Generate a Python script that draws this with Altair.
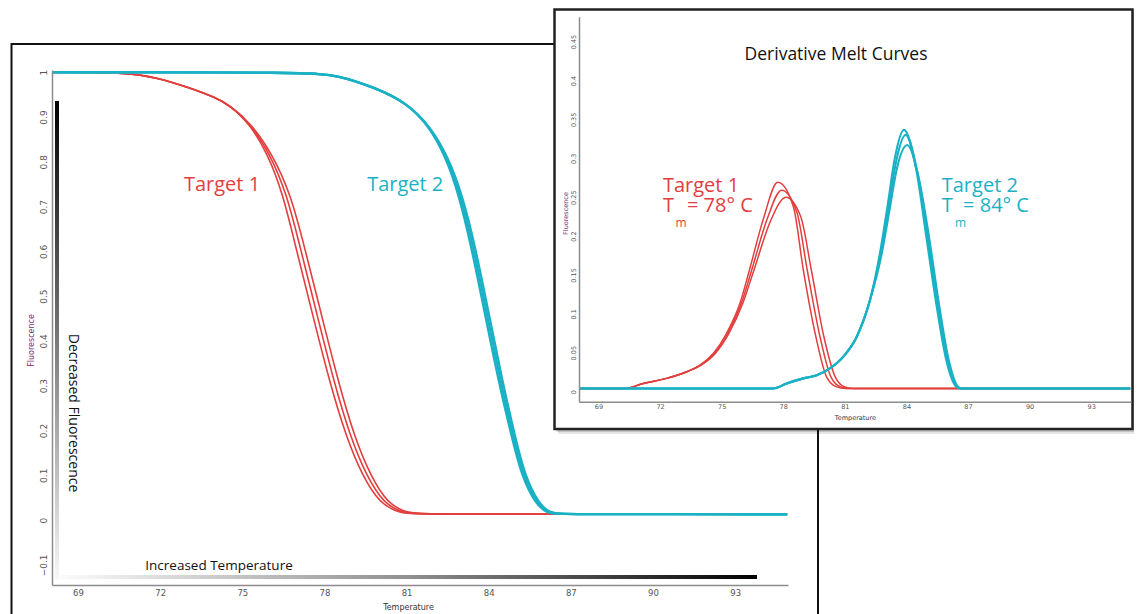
import altair as alt
import pandas as pd

# ---------------- values ----------------
# Main plot: normalised melt curves (fluorescence vs temperature), 3 replicates per target
main_t1_level = [1.0, 1.0, 0.988, 0.965, 0.944, 0.926, 0.886, 0.818, 0.729, 0.610, 0.461, 0.3125, 0.186, 0.097, 0.037, 0.015, 0.013, 0.013]
main_t1_temp_a = [68.05, 70.72, 71.9, 73.09, 74.0, 74.55, 75.25, 75.93, 76.48, 76.95, 77.56, 78.17, 78.79, 79.40, 80.02, 80.75, 81.5, 94.9]
main_t1_temp_b = [68.05, 70.72, 71.9, 73.09, 74.0, 74.55, 75.28, 76.01, 76.62, 77.11, 77.72, 78.33, 78.94, 79.55, 80.16, 80.89, 81.6, 94.9]
main_t1_temp_c = [68.05, 70.72, 71.9, 73.09, 74.0, 74.55, 75.31, 76.09, 76.76, 77.27, 77.88, 78.49, 79.09, 79.70, 80.30, 81.03, 81.7, 94.9]

main_t2_level = [1.0, 1.0, 0.993, 0.967, 0.932, 0.878, 0.811, 0.729, 0.610, 0.461, 0.3125, 0.186, 0.097, 0.037, 0.015, 0.013, 0.013]
main_t2_temp_a = [68.05, 77.4, 78.5, 79.79, 81.01, 81.84, 82.43, 82.90, 83.37, 83.86, 84.35, 84.84, 85.21, 85.70, 86.12, 86.6, 94.9]
main_t2_temp_b = [68.05, 77.4, 78.5, 79.79, 81.01, 81.86, 82.47, 82.96, 83.44, 83.93, 84.42, 84.90, 85.27, 85.76, 86.18, 86.65, 94.9]
main_t2_temp_c = [68.05, 77.4, 78.5, 79.79, 81.01, 81.88, 82.51, 83.02, 83.51, 84.00, 84.49, 84.96, 85.33, 85.82, 86.24, 86.7, 94.9]

# Inset: derivative melt curves
ins_t1_temp_a = [68.05, 70.29, 71.18, 72.32, 73.30, 73.94, 74.59, 75.24, 75.89, 76.35, 77.03, 77.73, 78.49, 78.98, 79.59, 80.11, 80.6, 81.0, 94.9]
ins_t1_val_a = [0.004, 0.004, 0.0105, 0.017, 0.0255, 0.034, 0.049, 0.075, 0.1135, 0.156, 0.222, 0.269, 0.238, 0.156, 0.0705, 0.019, 0.006, 0.004, 0.004]
ins_t1_temp_b = [68.05, 70.29, 71.18, 72.32, 73.30, 73.97, 74.64, 75.30, 75.96, 76.46, 77.19, 77.92, 78.66, 79.17, 79.79, 80.32, 80.8, 81.25, 94.9]
ins_t1_val_b = [0.004, 0.004, 0.0105, 0.017, 0.0255, 0.034, 0.049, 0.075, 0.1135, 0.156, 0.220, 0.259, 0.231, 0.156, 0.0705, 0.019, 0.006, 0.004, 0.004]
ins_t1_temp_c = [68.05, 70.29, 71.18, 72.32, 73.30, 74.00, 74.69, 75.36, 76.03, 76.57, 77.39, 78.13, 78.85, 79.37, 79.98, 80.53, 81.0, 81.49, 94.9]
ins_t1_val_c = [0.004, 0.004, 0.0105, 0.017, 0.0255, 0.034, 0.049, 0.075, 0.1135, 0.156, 0.220, 0.250, 0.225, 0.156, 0.0705, 0.019, 0.006, 0.004, 0.004]

ins_t2_temp_a = [68.05, 77.51, 78.17, 78.98, 79.63, 80.28, 80.93, 81.58, 82.23, 82.71, 83.10, 83.42, 83.88, 84.48, 84.97, 85.45, 85.94, 86.43, 86.6, 94.9]
ins_t2_val_a = [0.004, 0.004, 0.0105, 0.017, 0.021, 0.030, 0.045, 0.0705, 0.118, 0.178, 0.242, 0.298, 0.3365, 0.285, 0.199, 0.1135, 0.0405, 0.006, 0.004, 0.004]
ins_t2_temp_b = [68.05, 77.51, 78.17, 78.98, 79.63, 80.28, 80.93, 81.58, 82.23, 82.74, 83.14, 83.47, 83.96, 84.55, 85.04, 85.52, 86.00, 86.48, 86.65, 94.9]
ins_t2_val_b = [0.004, 0.004, 0.0105, 0.017, 0.021, 0.030, 0.045, 0.0705, 0.118, 0.176, 0.238, 0.292, 0.330, 0.280, 0.199, 0.1135, 0.0405, 0.006, 0.004, 0.004]
ins_t2_temp_c = [68.05, 77.51, 78.17, 78.98, 79.63, 80.28, 80.93, 81.58, 82.23, 82.77, 83.18, 83.52, 84.04, 84.62, 85.10, 85.58, 86.06, 86.52, 86.7, 94.9]
ins_t2_val_c = [0.004, 0.004, 0.0105, 0.017, 0.021, 0.030, 0.045, 0.0705, 0.118, 0.174, 0.234, 0.285, 0.317, 0.272, 0.199, 0.1135, 0.0405, 0.006, 0.004, 0.004]

x_ticks = [69, 72, 75, 78, 81, 84, 87, 90, 93]
main_y_ticks = [-0.1, 0, 0.1, 0.2, 0.3, 0.4, 0.5, 0.6, 0.7, 0.8, 0.9, 1]
ins_y_ticks = [0, 0.05, 0.1, 0.15, 0.2, 0.25, 0.3, 0.35, 0.4, 0.45]

# annotations (text, temperature, value)
main_target_labels = ["Target 1", "Target 2"]
main_target_temp = [74.26, 80.95]
main_target_val = [0.734, 0.734]
ins_target_labels = ["Target 1", "Target 2"]
ins_target_temp = [72.14, 85.72]
ins_tm_rest = ["= 78\u00b0 C", "= 84\u00b0 C"]
ins_tm_rest_temp = [73.31, 86.76]
ins_tm_sub_temp = [72.75, 86.37]

RED = "#E23E3E"
CYAN = "#1BB1C5"
PURPLE = "#7B2D6E"
W, H = 1126, 606

# ---------------- scales ----------------
main_x = alt.Scale(domain=[68.05, 94.93], range=[44, 780], nice=False, zero=False)
main_y = alt.Scale(domain=[-0.145, 1.005], range=[577, 62], nice=False, zero=False)
ins_x = alt.Scale(domain=[68.05, 94.93], range=[571, 1122.8], nice=False, zero=False)
ins_y = alt.Scale(domain=[-0.013, 0.482], range=[393.7, 8.7], nice=False, zero=False)


def rows(temps, vals, rep):
    return pd.DataFrame({"temp": temps, "val": vals, "rep": rep})


main_red = pd.concat([rows(main_t1_temp_a, main_t1_level, "a"),
                      rows(main_t1_temp_b, main_t1_level, "b"),
                      rows(main_t1_temp_c, main_t1_level, "c")])
main_cyan = pd.concat([rows(main_t2_temp_a, main_t2_level, "a"),
                       rows(main_t2_temp_b, main_t2_level, "b"),
                       rows(main_t2_temp_c, main_t2_level, "c")])
ins_red = pd.concat([rows(ins_t1_temp_a, ins_t1_val_a, "a"),
                     rows(ins_t1_temp_b, ins_t1_val_b, "b"),
                     rows(ins_t1_temp_c, ins_t1_val_c, "c")])
ins_cyan = pd.concat([rows(ins_t2_temp_a, ins_t2_val_a, "a"),
                      rows(ins_t2_temp_b, ins_t2_val_b, "b"),
                      rows(ins_t2_temp_c, ins_t2_val_c, "c")])

one = pd.DataFrame({"k": [0]})


def box(x, x2, y, y2, **kw):
    return alt.Chart(one).mark_rect(**kw).encode(
        x=alt.value(x), x2=alt.value(x2), y=alt.value(y), y2=alt.value(y2))


def texts(df, xs, ys, color_field=None, **kw):
    enc = dict(x=alt.X("temp:Q", scale=xs, axis=None),
               y=alt.Y("val:Q", scale=ys, axis=None),
               text="label:N")
    if color_field:
        enc["color"] = alt.Color(color_field + ":N", scale=None)
    return alt.Chart(df).mark_text(**kw).encode(**enc)


ax_common = dict(ticks=False, grid=False, labelFont="DejaVu Sans", labelColor="#555555",
                 domainColor="#8c8c8c", domainWidth=1.5, titleFont="DejaVu Sans",
                 titleFontWeight="normal", labelFlush=False, zindex=1)

main_xaxis = alt.Axis(orient="bottom", offset=577 - H, values=x_ticks, labelFontSize=8.5,
                      labelPadding=3, title="Temperature", titleFontSize=8, titleColor="#333333",
                      titleX=400, titleY=22, titleBaseline="middle", **ax_common)
main_yaxis = alt.Axis(orient="left", offset=-44, values=main_y_ticks,
                      labelExpr="format(datum.value, '~g')", labelAngle=270,
                      labelAlign="center", labelBaseline="bottom", labelFontSize=9,
                      labelPadding=4, title="Fluorescence", titleFontSize=8, titleColor=PURPLE,
                      titleAngle=270, titleX=-21, titleY=332, titleAlign="center",
                      titleBaseline="middle", **ax_common)
ins_xaxis = alt.Axis(orient="bottom", offset=393.7 - H, values=x_ticks, labelFontSize=6.5,
                     labelPadding=2, title="Temperature", titleFontSize=6.5, titleColor="#333333",
                     titleY=16, titleBaseline="middle", **ax_common)
ins_yaxis = alt.Axis(orient="left", offset=-571, values=ins_y_ticks,
                     labelExpr="format(datum.value, '~g')", labelAngle=270,
                     labelAlign="center", labelBaseline="bottom", labelFontSize=6.5,
                     labelPadding=3, title="Fluorescence", titleFontSize=6.5, titleColor=PURPLE,
                     titleAngle=270, titleX=-14, titleY=205, titleAlign="center",
                     titleBaseline="middle", **ax_common)

# ---------------- main panel ----------------
main_frame = box(3.5, 810, 36, 700, fill="white", stroke="#111111", strokeWidth=2)

vgrad = alt.Gradient(gradient="linear",
                     stops=[alt.GradientStop(color="#000000", offset=0),
                            alt.GradientStop(color="#7a7a7a", offset=0.5),
                            alt.GradientStop(color="#f8f8f8", offset=1)],
                     x1=0, x2=0, y1=0, y2=1)
hgrad = alt.Gradient(gradient="linear",
                     stops=[alt.GradientStop(color="#fbfbfb", offset=0),
                            alt.GradientStop(color="#909090", offset=0.5),
                            alt.GradientStop(color="#000000", offset=1)],
                     x1=0, x2=1, y1=0, y2=0)
vbar = box(47, 51, 93, 572, fill=vgrad)
hbar = box(52, 749, 567, 571, fill=hgrad)

main_red_lines = alt.Chart(main_red).mark_line(
    interpolate="basis", color=RED, strokeWidth=1.6).encode(
    x=alt.X("temp:Q", scale=main_x, axis=main_xaxis),
    y=alt.Y("val:Q", scale=main_y, axis=main_yaxis),
    detail="rep:N")
main_cyan_lines = alt.Chart(main_cyan).mark_line(
    interpolate="basis", color=CYAN, strokeWidth=2.3).encode(
    x=alt.X("temp:Q", scale=main_x, axis=None),
    y=alt.Y("val:Q", scale=main_y, axis=None),
    detail="rep:N")

main_target_df = pd.DataFrame({"label": main_target_labels, "temp": main_target_temp,
                               "val": main_target_val, "c": [RED, CYAN]})
main_target_txt = texts(main_target_df, main_x, main_y, color_field="c", font="Open Sans",
                        fontSize=20, align="center", baseline="alphabetic")
dec_df = pd.DataFrame({"label": ["Decreased Fluorescence"], "temp": [68.817], "val": [0.239]})
dec_txt = texts(dec_df, main_x, main_y, font="Open Sans", fontSize=14, angle=90,
                align="center", baseline="middle", color="#111111")
inc_df = pd.DataFrame({"label": ["Increased Temperature"], "temp": [74.15], "val": [-0.1116]})
inc_txt = texts(inc_df, main_x, main_y, font="Open Sans", fontSize=13.5,
                align="center", baseline="alphabetic", color="#111111")

# ---------------- inset panel ----------------
shadow1 = box(550, 1130, 5, 426, fill="#000000", opacity=0.10)
shadow2 = box(548.5, 1128, 3, 424, fill="#000000", opacity=0.15)
ins_frame = box(546.5, 1124.5, 1.5, 421, fill="white", stroke="#222222", strokeWidth=2.5)

ins_red_lines = alt.Chart(ins_red).mark_line(
    interpolate="monotone", color=RED, strokeWidth=1.5).encode(
    x=alt.X("temp:Q", scale=ins_x, axis=ins_xaxis),
    y=alt.Y("val:Q", scale=ins_y, axis=ins_yaxis),
    detail="rep:N")
ins_cyan_lines = alt.Chart(ins_cyan).mark_line(
    interpolate="monotone", color=CYAN, strokeWidth=2.1).encode(
    x=alt.X("temp:Q", scale=ins_x, axis=None),
    y=alt.Y("val:Q", scale=ins_y, axis=None),
    detail="rep:N")

title_df = pd.DataFrame({"label": ["Derivative Melt Curves"], "temp": [80.57], "val": [0.4268]})
ins_title = texts(title_df, ins_x, ins_y, font="Open Sans", fontSize=17.5,
                  align="center", baseline="alphabetic", color="#111111")
ins_t_df = pd.DataFrame({"label": ins_target_labels, "temp": ins_target_temp,
                         "val": [0.2572, 0.2572], "c": [RED, CYAN]})
ins_t_txt = texts(ins_t_df, ins_x, ins_y, color_field="c", font="Open Sans", fontSize=20,
                  align="left", baseline="alphabetic")
ins_T_df = pd.DataFrame({"label": ["T", "T"], "temp": ins_target_temp,
                         "val": [0.2311, 0.2311], "c": [RED, CYAN]})
ins_T_txt = texts(ins_T_df, ins_x, ins_y, color_field="c", font="Open Sans", fontSize=20,
                  align="left", baseline="alphabetic")
ins_m_df = pd.DataFrame({"label": ["m", "m"], "temp": ins_tm_sub_temp,
                         "val": [0.2118, 0.2118], "c": [RED, CYAN]})
ins_m_txt = texts(ins_m_df, ins_x, ins_y, color_field="c", font="Open Sans", fontSize=12,
                  align="left", baseline="alphabetic")
ins_r_df = pd.DataFrame({"label": ins_tm_rest, "temp": ins_tm_rest_temp,
                         "val": [0.2311, 0.2311], "c": [RED, CYAN]})
ins_r_txt = texts(ins_r_df, ins_x, ins_y, color_field="c", font="Open Sans", fontSize=20,
                  align="left", baseline="alphabetic")

chart = alt.layer(
    main_frame, vbar, hbar, main_target_txt, dec_txt, inc_txt,
    main_red_lines, main_cyan_lines,
    shadow1, shadow2, ins_frame, ins_title, ins_t_txt, ins_T_txt, ins_m_txt, ins_r_txt,
    ins_red_lines, ins_cyan_lines,
).resolve_scale(x="independent", y="independent").properties(
    width=W, height=H, padding=0, background="white",
    autosize=alt.AutoSizeParams(type="none"),
).configure_view(stroke=None)

chart.save("out.html", embed_options={"renderer": "svg", "actions": False})
